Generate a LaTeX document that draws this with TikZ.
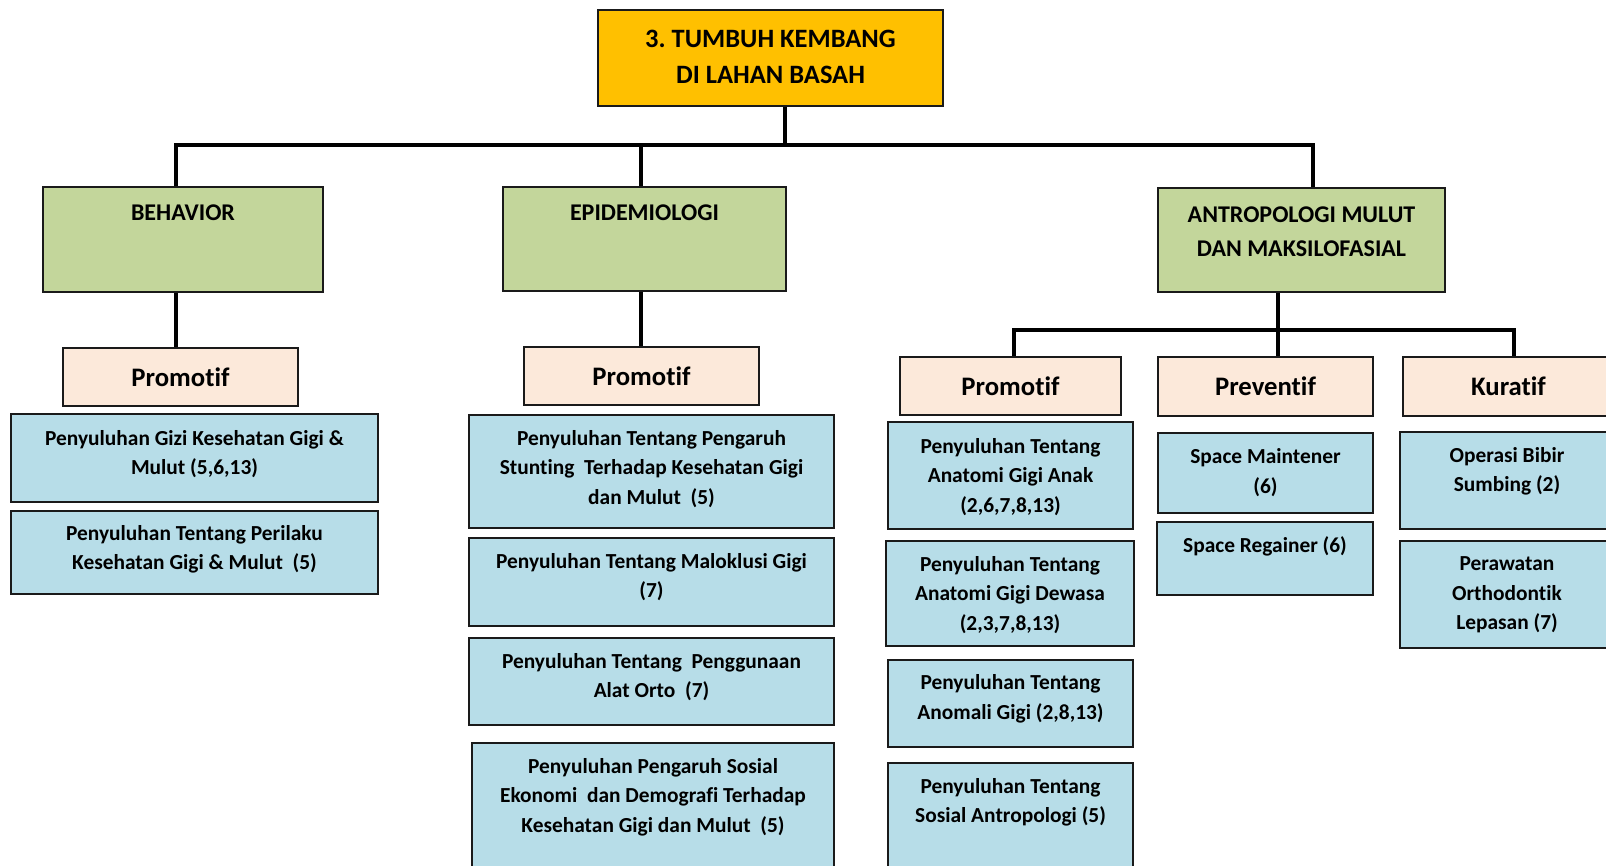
\documentclass[tikz,border=0pt]{standalone}
\usepackage{fontspec}
\setmainfont[Ligatures=NoCommon]{Carlito}
\frenchspacing
\definecolor{gold}{HTML}{FFC000}
\definecolor{olive}{HTML}{C3D69B}
\definecolor{peach}{HTML}{FCE9DA}
\definecolor{aqua}{HTML}{B7DDE8}
\definecolor{edge}{HTML}{1A1A1A}
\tikzset{
  boxbase/.style={rectangle, draw=edge, line width=1.6pt, inner sep=0pt},
  titlebox/.style={boxbase, fill=gold},
  greenbox/.style={boxbase, fill=olive},
  peachbox/.style={boxbase, fill=peach},
  bluebox/.style={boxbase, fill=aqua},
  txt/.style={align=center, inner sep=0pt, text=black},
  titleboxtxt/.style={font=\bfseries\fontsize{26.5}{36}\selectfont},
  greenboxtxt/.style={font=\bfseries\fontsize{24}{34}\selectfont},
  peachboxtxt/.style={font=\bfseries\fontsize{26.7}{30}\selectfont},
  blueboxtxt/.style={font=\bfseries\fontsize{21.4}{29.5}\selectfont},
  conn/.style={draw=black, line width=3.6pt, line join=miter},
}
% style, name, x1, y1, x2, y2, text centre y, text
\newcommand{\mkbox}[8]{%
  \node[#1, minimum width={#5-#3}, minimum height={#6-#4}] (#2) at ({(#3+#5)/2},{(#4+#6)/2}) {};
  \node[txt, #1txt] (#2t) at ({(#3+#5)/2},#7) {#8};
}
\begin{document}
\begin{tikzpicture}[x=1pt, y=-1pt]
\useasboundingbox (0,0) rectangle (1606,865);
\fill[white] (0,0) rectangle (1606,865);

% junction points
\coordinate (tdrop) at (785,145);
\coordinate (barL) at (176,145);
\coordinate (barE) at (641,145);
\coordinate (barR) at (1313,145);
\coordinate (bar2M) at (1278,330);
\coordinate (bar2L) at (1014,330);
\coordinate (bar2R) at (1514,330);

\mkbox{titlebox}{title}{598}{10}{943}{106}{57}{3. TUMBUH KEMBANG\\DI LAHAN BASAH}
\mkbox{greenbox}{beh}{43}{187}{323}{292}{213}{BEHAVIOR}
\mkbox{greenbox}{epi}{503}{187}{786}{291}{213}{EPIDEMIOLOGI}
\mkbox{greenbox}{antro}{1158}{188}{1445}{292}{232}{ANTROPOLOGI MULUT\\DAN MAKSILOFASIAL}

\mkbox{peachbox}{prom1}{63}{348}{298}{406}{377}{Promotif}
\mkbox{peachbox}{prom2}{524}{347}{759}{405}{376}{Promotif}
\mkbox{peachbox}{prom3}{900}{357}{1121}{415}{386}{Promotif}
\mkbox{peachbox}{prev}{1158}{357}{1373}{416}{386}{Preventif}
\mkbox{peachbox}{kur}{1403}{357}{1614}{416}{386}{Kuratif}

\mkbox{bluebox}{b11}{11}{414}{378}{502}{454}{Penyuluhan Gizi Kesehatan Gigi \&\\Mulut (5,6,13)}
\mkbox{bluebox}{b12}{11}{511}{378}{594}{549.5}{Penyuluhan Tentang Perilaku\\Kesehatan Gigi \& Mulut~ (5)}

\mkbox{bluebox}{b21}{469}{415}{834}{528}{469}{Penyuluhan Tentang Pengaruh\\Stunting~ Terhadap Kesehatan Gigi\\dan Mulut~ (5)}
\mkbox{bluebox}{b22}{469}{538}{834}{626}{577}{Penyuluhan Tentang Maloklusi Gigi\\(7)}
\mkbox{bluebox}{b23}{469}{638}{834}{725}{677}{Penyuluhan Tentang~ Penggunaan\\Alat Orto~ (7)}
\mkbox{bluebox}{b24}{472}{743}{834}{900}{797}{Penyuluhan Pengaruh Sosial\\Ekonomi~ dan Demografi Terhadap\\Kesehatan Gigi dan Mulut~ (5)}

\mkbox{bluebox}{b31}{888}{422}{1133}{529}{477}{Penyuluhan Tentang\\Anatomi Gigi Anak\\(2,6,7,8,13)}
\mkbox{bluebox}{b32}{886}{541}{1134}{646}{595}{Penyuluhan Tentang\\Anatomi Gigi Dewasa\\(2,3,7,8,13)}
\mkbox{bluebox}{b33}{888}{660}{1133}{747}{699}{Penyuluhan Tentang\\Anomali Gigi (2,8,13)}
\mkbox{bluebox}{b34}{888}{763}{1133}{900}{802.5}{Penyuluhan Tentang\\Sosial Antropologi (5)}

\mkbox{bluebox}{b41}{1158}{433}{1373}{513}{472.5}{Space Maintener\\(6)}
\mkbox{bluebox}{b42}{1157}{522}{1373}{595}{546}{Space Regainer (6)}

\mkbox{bluebox}{b51}{1400}{432}{1614}{529}{471.5}{Operasi Bibir\\Sumbing (2)}
\mkbox{bluebox}{b52}{1400}{541}{1614}{648}{595}{Perawatan\\Orthodontik\\Lepasan (7)}

% connectors
\draw[conn] (tdrop |- title.south) -- (tdrop);
\draw[conn] (barL |- beh.north) -- (barL) -- (barR) -- (barR |- antro.north);
\draw[conn] (barE) -- (barE |- epi.north);
\draw[conn] (barL |- beh.south) -- (barL |- prom1.north);
\draw[conn] (barE |- epi.south) -- (barE |- prom2.north);
\draw[conn] (bar2M |- antro.south) -- (bar2M |- prev.north);
\draw[conn] (bar2L |- prom3.north) -- (bar2L) -- (bar2R) -- (bar2R |- kur.north);
\end{tikzpicture}
\end{document}
